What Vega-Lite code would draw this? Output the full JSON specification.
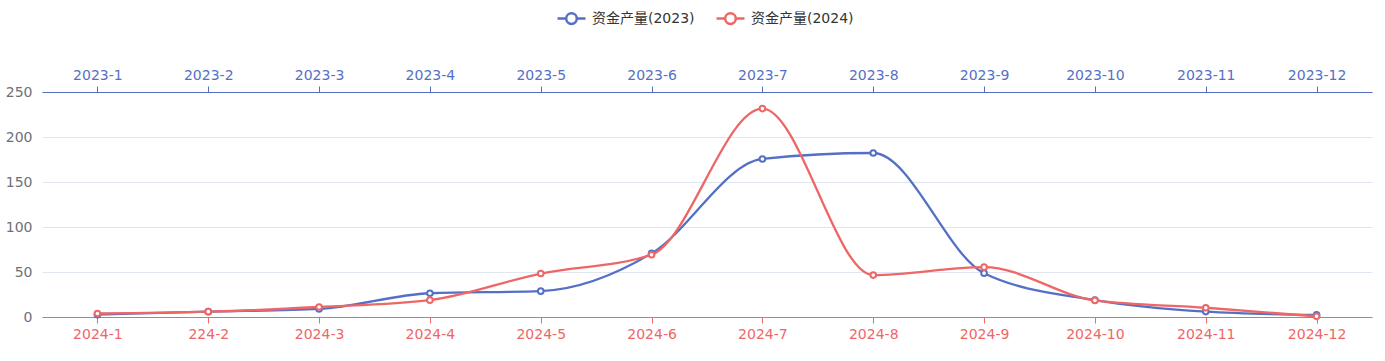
{
  "$schema": "https://vega.github.io/schema/vega-lite/v6.json",
  "width": 1330,
  "height": 225,
  "autosize": "none",
  "padding": {"left": 42, "top": 92, "right": 13, "bottom": 44},
  "background": "white",
  "config": {"view": {"stroke": null}, "font": "DejaVu Sans, Noto Sans CJK SC"},
  "data": {"values": [
    {"series": "资金产量(2023)", "xTop": "2023-1", "value": 2.6},
    {"series": "资金产量(2023)", "xTop": "2023-2", "value": 5.9},
    {"series": "资金产量(2023)", "xTop": "2023-3", "value": 9.0},
    {"series": "资金产量(2023)", "xTop": "2023-4", "value": 26.4},
    {"series": "资金产量(2023)", "xTop": "2023-5", "value": 28.7},
    {"series": "资金产量(2023)", "xTop": "2023-6", "value": 70.7},
    {"series": "资金产量(2023)", "xTop": "2023-7", "value": 175.6},
    {"series": "资金产量(2023)", "xTop": "2023-8", "value": 182.2},
    {"series": "资金产量(2023)", "xTop": "2023-9", "value": 48.7},
    {"series": "资金产量(2023)", "xTop": "2023-10", "value": 18.8},
    {"series": "资金产量(2023)", "xTop": "2023-11", "value": 6.0},
    {"series": "资金产量(2023)", "xTop": "2023-12", "value": 2.3},
    {"series": "资金产量(2024)", "xBottom": "2024-1", "value": 3.9},
    {"series": "资金产量(2024)", "xBottom": "224-2", "value": 5.9},
    {"series": "资金产量(2024)", "xBottom": "2024-3", "value": 11.1},
    {"series": "资金产量(2024)", "xBottom": "2024-4", "value": 18.7},
    {"series": "资金产量(2024)", "xBottom": "2024-5", "value": 48.3},
    {"series": "资金产量(2024)", "xBottom": "2024-6", "value": 69.2},
    {"series": "资金产量(2024)", "xBottom": "2024-7", "value": 231.6},
    {"series": "资金产量(2024)", "xBottom": "2024-8", "value": 46.6},
    {"series": "资金产量(2024)", "xBottom": "2024-9", "value": 55.4},
    {"series": "资金产量(2024)", "xBottom": "2024-10", "value": 18.4},
    {"series": "资金产量(2024)", "xBottom": "2024-11", "value": 10.3},
    {"series": "资金产量(2024)", "xBottom": "2024-12", "value": 0.7}
  ]},
  "encoding": {
    "y": {
      "field": "value", "type": "quantitative",
      "scale": {"domain": [0, 250], "nice": false},
      "axis": {"title": null, "values": [0, 50, 100, 150, 200, 250], "domain": false, "ticks": false,
        "labelColor": "#6e7079", "labelFontSize": 14, "labelPadding": 10, "labelFont": "DejaVu Sans",
        "gridColor": "#e0e6f1", "gridWidth": 1}
    },
    "color": {
      "field": "series", "type": "nominal",
      "scale": {"domain": ["资金产量(2023)", "资金产量(2024)"], "range": ["#5470c6", "#ee6666"]},
      "legend": {
        "title": null, "orient": "none", "direction": "horizontal",
        "legendX": 514, "legendY": -89,
        "symbolType": "M-1,0 L-0.38,0 M0.38,0 L1,0 M0.38,0 A0.38,0.38 0 1,1 -0.38,0 A0.38,0.38 0 1,1 0.38,0",
        "symbolSize": 784, "symbolStrokeWidth": 2.5, "symbolFillColor": "white",
        "labelFont": "DejaVu Sans, Noto Sans CJK SC",
        "labelFontSize": 14, "labelColor": "#333333", "labelOffset": 5, "columnPadding": 16
      }
    }
  },
  "layer": [
    {
      "transform": [{"filter": "datum.series === '资金产量(2023)'"}],
      "encoding": {
        "x": {"field": "xTop", "type": "ordinal", "sort": null,
          "scale": {"type": "point", "padding": 0.5},
          "axis": {"orient": "top", "title": null, "labelAngle": 0, "domainColor": "#5470c6", "tickColor": "#5470c6",
            "labelColor": "#5470c6", "labelFontSize": 14, "labelFont": "DejaVu Sans", "tickSize": 6, "labelPadding": 4, "domainWidth": 1.2}
        }
      },
      "layer": [
        {"mark": {"type": "line", "interpolate": "monotone", "strokeWidth": 2.3}},
        {"mark": {"type": "point", "filled": true, "fill": "white", "size": 32, "strokeWidth": 2, "opacity": 1},
         "encoding": {"stroke": {"field": "series", "type": "nominal", "legend": null, "scale": {"domain": ["资金产量(2023)", "资金产量(2024)"], "range": ["#5470c6", "#ee6666"]}}, "color": {"value": "white"}}}
      ]
    },
    {
      "transform": [{"filter": "datum.series === '资金产量(2024)'"}],
      "encoding": {
        "x": {"field": "xBottom", "type": "ordinal", "sort": null,
          "scale": {"type": "point", "padding": 0.5},
          "axis": {"orient": "bottom", "title": null, "labelAngle": 0, "domainColor": "#ee6666", "tickColor": "#ee6666",
            "labelColor": "#ee6666", "labelFontSize": 14, "labelFont": "DejaVu Sans", "tickSize": 6, "labelPadding": 4, "domainWidth": 1.2}
        }
      },
      "layer": [
        {"mark": {"type": "line", "interpolate": "monotone", "strokeWidth": 2.3}},
        {"mark": {"type": "point", "filled": true, "fill": "white", "size": 32, "strokeWidth": 2, "opacity": 1},
         "encoding": {"stroke": {"field": "series", "type": "nominal", "legend": null, "scale": {"domain": ["资金产量(2023)", "资金产量(2024)"], "range": ["#5470c6", "#ee6666"]}}, "color": {"value": "white"}}}
      ]
    }
  ],
  "resolve": {"scale": {"x": "independent"}, "axis": {"x": "independent"}}
}
